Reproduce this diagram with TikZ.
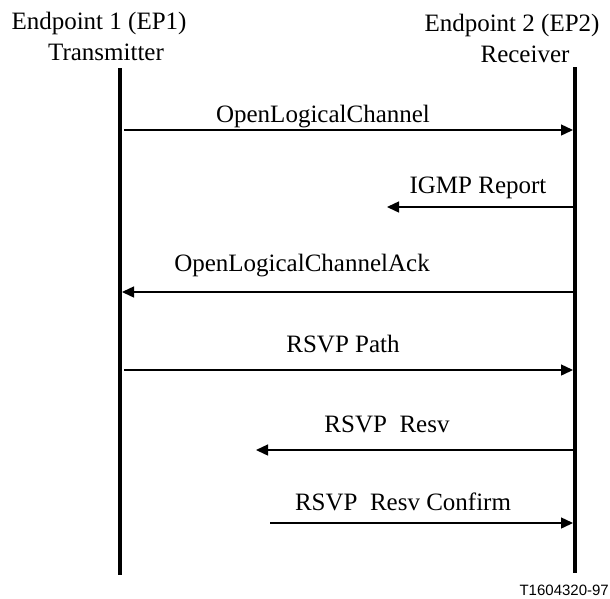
\documentclass[tikz,border=0pt]{standalone}
\usepackage{fontspec}
\setmainfont{Liberation Serif}
\setsansfont{Liberation Sans}
\usetikzlibrary{arrows.meta}

\begin{document}
\begin{tikzpicture}[
  x=1pt, y=-1pt,
  head/.style={inner sep=0pt, anchor=base, font=\fontsize{25}{30}\selectfont},
  lifeline/.style={line width=3.5pt},
  msg/.style={-{Triangle[length=12pt,width=11pt]}, line width=1.4pt},
  lbl/.style={inner sep=0pt, anchor=base, font=\fontsize{25}{30}\selectfont},
  tag/.style={inner sep=0pt, anchor=base east, font=\sffamily\fontsize{15}{18}\selectfont},
]
  \useasboundingbox (0,0) rectangle (610,598);

  % endpoints
  \node[head] (ep1) at (99,29) {Endpoint 1 (EP1)};
  \node[head] (tx)  at (106,60) {Transmitter};
  \node[head] (ep2) at (512,31) {Endpoint 2 (EP2)};
  \node[head] (rx)  at (525,62) {Receiver};

  \coordinate (ep1top) at (120,68);
  \coordinate (ep1bot) at (120,575);
  \coordinate (ep2top) at (575,67);
  \coordinate (ep2bot) at (575,573);
  \draw[lifeline] (ep1top) -- (ep1bot);
  \draw[lifeline] (ep2top) -- (ep2bot);

  % message ends
  \coordinate (olcA)  at (124,130);  \coordinate (olcB)  at (573,130);
  \coordinate (igmpA) at (573,207);  \coordinate (igmpB) at (387,207);
  \coordinate (ackA)  at (573,292);  \coordinate (ackB)  at (122,292);
  \coordinate (pathA) at (124,370);  \coordinate (pathB) at (573,370);
  \coordinate (resvA) at (573,450);  \coordinate (resvB) at (256,450);
  \coordinate (confA) at (270,523);  \coordinate (confB) at (573,523);

  \draw[msg] (olcA) -- (olcB);
  \draw[msg] (igmpA) -- (igmpB);
  \draw[msg] (ackA) -- (ackB);
  \draw[msg] (pathA) -- (pathB);
  \draw[msg] (resvA) -- (resvB);
  \draw[msg] (confA) -- (confB);

  % message labels
  \node[lbl] (olc)  at (323,122) {OpenLogicalChannel};
  \node[lbl] (igmp) at (478,193) {IGMP Report};
  \node[lbl] (ack)  at (302,271) {OpenLogicalChannelAck};
  \node[lbl] (path) at (343,352) {RSVP Path};
  \node[lbl] (resv) at (387,432) {RSVP~~Resv};
  \node[lbl] (conf) at (403,510) {RSVP~~Resv Confirm};

  \node[tag] (fig) at (609,595) {T1604320-97};
\end{tikzpicture}
\end{document}
